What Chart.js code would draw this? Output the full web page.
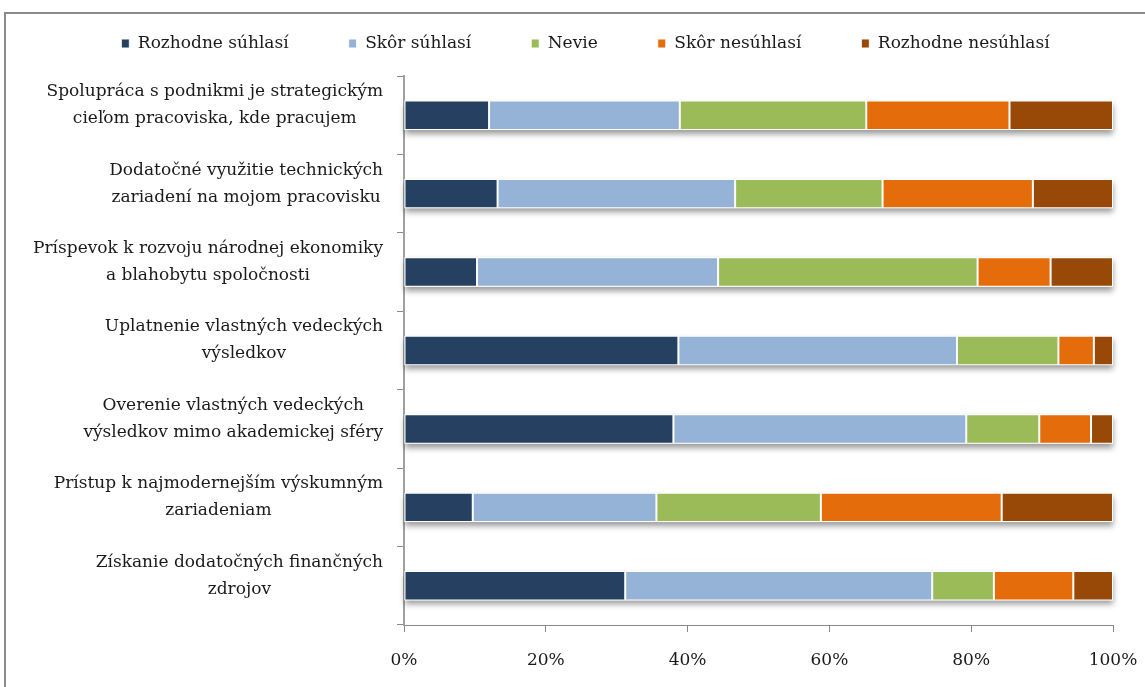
<!DOCTYPE html>
<html lang="sk">
<head>
<meta charset="utf-8">
<title>Motivácia spolupráce</title>
<script src="https://cdn.jsdelivr.net/npm/chart.js@4.4.1/dist/chart.umd.min.js"></script>
<style>
    html, body { margin: 0; padding: 0; background: #fff; overflow: hidden; }
    #chart { display: block; }
</style>
</head>
<body>
<canvas id="chart" width="1145" height="687"></canvas>
<script>
// kategórie (zhora nadol)
const categories = [
    ["Spolupráca s podnikmi je strategickým", "cieľom pracoviska, kde pracujem"],
    ["Dodatočné využitie technických", "zariadení na mojom pracovisku"],
    ["Príspevok k rozvoju národnej ekonomiky", "a blahobytu spoločnosti"],
    ["Uplatnenie vlastných vedeckých", "výsledkov"],
    ["Overenie vlastných vedeckých", "výsledkov mimo akademickej sféry"],
    ["Prístup k najmodernejším výskumným", "zariadeniam"],
    ["Získanie dodatočných finančných", "zdrojov"],
];

// podiely odpovedí v %
const rozhodneSuhlasi   = [12.0, 13.2, 10.3, 38.7, 38.0,  9.7, 31.2];
const skorSuhlasi       = [26.9, 33.5, 34.0, 39.3, 41.3, 25.9, 43.3];
const nevie             = [26.3, 20.8, 36.6, 14.3, 10.3, 23.2,  8.7];
const skorNesuhlasi     = [20.2, 21.2, 10.3,  5.0,  7.3, 25.5, 11.2];
const rozhodneNesuhlasi = [14.6, 11.3,  8.8,  2.7,  3.1, 15.7,  5.6];

const xTicks = [0, 20, 40, 60, 80, 100];

const FONT = "'DejaVu Serif', 'Liberation Serif', serif";
const TEXT = "#1a1a1a";
const AXIS = "#8a8a8a";
const PAD_LEFT = 58;

function series(label, data, color) {
    return {
        label,
        data,
        xAxisID: "x",
        yAxisID: "y",
        backgroundColor: color,
        borderColor: "rgba(255,255,255,0.95)",
        borderWidth: 1,
        borderSkipped: false,
        barPercentage: 0.375,
        categoryPercentage: 1,
    };
}

// rámček okolo grafu (vidno len ľavú a hornú hranu)
const frame = {
    id: "frame",
    beforeDraw(chart) {
        const ctx = chart.ctx;
        ctx.save();
        ctx.fillStyle = "#fff";
        ctx.fillRect(0, 0, chart.width, chart.height);
        ctx.strokeStyle = "#8a8a8a";
        ctx.lineWidth = 2;
        ctx.beginPath();
        ctx.moveTo(5, chart.height);
        ctx.lineTo(5, 13);
        ctx.lineTo(chart.width, 13);
        ctx.stroke();
        ctx.restore();
    },
};

// tieň pod celým pruhom
const barShadow = {
    id: "barShadow",
    beforeDatasetsDraw(chart) {
        const first = chart.getDatasetMeta(0).data;
        const last = chart.getDatasetMeta(chart.data.datasets.length - 1).data;
        const ctx = chart.ctx;
        ctx.save();
        ctx.shadowColor = "rgba(0,0,0,0.4)";
        ctx.shadowBlur = 6;
        ctx.shadowOffsetY = 4;
        ctx.fillStyle = "#fff";
        first.forEach((bar, i) => {
            const p = bar.getProps(["base", "y", "height"], true);
            const end = last[i].getProps(["x"], true).x;
            ctx.fillRect(p.base, p.y - p.height / 2, end - p.base, p.height);
        });
        ctx.restore();
    },
};

// popisy kategórií: blok zarovnaný vpravo, riadky centrované v bloku
const categoryLabels = {
    id: "categoryLabels",
    afterDraw(chart) {
        const scale = chart.scales.y;
        const ctx = chart.ctx;
        const right = scale.right - 7 - 14;
        const lineH = 27;
        ctx.save();
        ctx.font = "17px " + FONT;
        ctx.fillStyle = TEXT;
        ctx.textAlign = "center";
        ctx.textBaseline = "middle";
        categories.forEach((lines, i) => {
            const w = Math.max(...lines.map((l) => ctx.measureText(l).width));
            const cx = right - w / 2;
            const cy = scale.getPixelForTick(i) - 10;
            lines.forEach((l, k) => {
                ctx.fillText(l, cx, cy + (k - (lines.length - 1) / 2) * lineH);
            });
        });
        ctx.restore();
    },
};

new Chart(document.getElementById("chart"), {
    type: "bar",
    data: {
        labels: categories,
        datasets: [
            series("Rozhodne súhlasí", rozhodneSuhlasi, "#264061"),
            series("Skôr súhlasí", skorSuhlasi, "#95b3d7"),
            series("Nevie", nevie, "#9bbb59"),
            series("Skôr nesúhlasí", skorNesuhlasi, "#e46c0a"),
            series("Rozhodne nesúhlasí", rozhodneNesuhlasi, "#984807"),
        ],
    },
    options: {
        indexAxis: "y",
        responsive: false,
        animation: false,
        devicePixelRatio: 1,
        layout: { padding: { left: PAD_LEFT, right: 32, top: -25, bottom: 0 } },
        plugins: {
            tooltip: { enabled: false },
            legend: {
                position: "top",
                labels: {
                    color: TEXT,
                    font: { family: FONT, size: 17 },
                    boxWidth: 8,
                    boxHeight: 9,
                    padding: 60,
                },
            },
        },
        scales: {
            x: {
                stacked: true,
                min: 0,
                max: 100,
                afterBuildTicks(s) { s.ticks = xTicks.map((v) => ({ value: v })); },
                ticks: {
                    color: TEXT,
                    font: { family: FONT, size: 17 },
                    padding: 18,
                    callback: (v) => v + "%",
                },
                grid: { drawOnChartArea: false, color: AXIS, tickLength: 7 },
                border: { color: AXIS, width: 1 },
                afterFit(s) {
                    s.height = 62;
                    s.paddingLeft = 0;
                    s.paddingRight = 0;
                },
            },
            spacer: {
                type: "linear",
                axis: "x",
                position: "top",
                grid: { display: false },
                border: { display: false },
                ticks: { display: false },
                afterFit(s) { s.height = 14; },
            },
            y: {
                stacked: true,
                grid: { offset: true, drawOnChartArea: false, color: AXIS, tickLength: 7 },
                border: { color: "#a0a0a0", width: 2 },
                ticks: { display: false, autoSkip: false },
                afterFit(s) { s.width = 404 - PAD_LEFT; },
            },
        },
    },
    plugins: [frame, barShadow, categoryLabels],
});
</script>
</body>
</html>
